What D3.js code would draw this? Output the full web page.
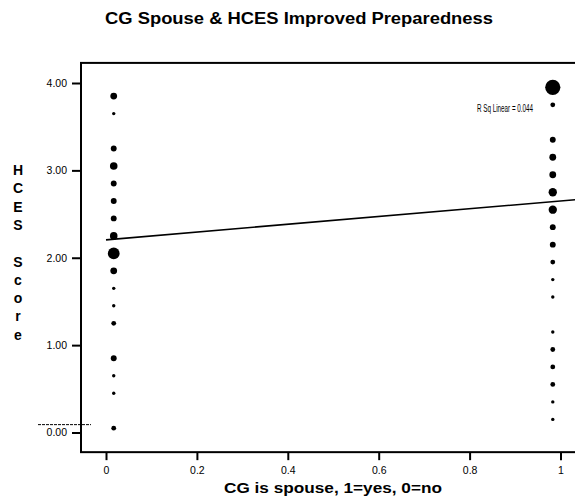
<!DOCTYPE html>
<html>
<head>
<meta charset="utf-8">
<script src="https://cdn.jsdelivr.net/npm/d3@7"></script>
<style>
  body { margin: 0; background: #fff; }
  svg { display: block; font-family: "Liberation Sans", Arial, sans-serif; }
</style>
</head>
<body>
<svg id="chart" width="575" height="498"></svg>
<script>
// CG is spouse: 0 = no, 1 = yes (columns are drawn slightly inside 0 and 1, as in the original)
var groupX = [0.017, 0.983];

// HCES score values and number of cases at each value
var scoresNo  = [3.85, 3.65, 3.25, 3.05, 2.85, 2.65, 2.45, 2.25, 2.05, 1.85, 1.65, 1.45, 1.25, 0.85, 0.65, 0.45, 0.05];
var countsNo  = [4,    1,    3,    5,    3,    3,    3,    5,    12,   4,    1,    1,    2,    3,    1,    1,    2];
var scoresYes = [3.95, 3.75, 3.35, 3.15, 2.95, 2.75, 2.55, 2.35, 2.15, 1.95, 1.75, 1.55, 1.15, 0.95, 0.75, 0.55, 0.35, 0.15];
var countsYes = [20,   2,    3,    4,    4,    6,    6,    3,    3,    2,    1,    1,    1,    2,    2,    2,    1,    1];

// linear fit
var fitIntercept = 2.205;
var fitSlope = 0.445;
var rSq = 0.044;

var xTicks = [0, 0.2, 0.4, 0.6, 0.8, 1];
var yTicks = [0, 1, 2, 3, 4];

var svg = d3.select("#chart");

var xScale = d3.scaleLinear().domain([0, 1]).range([106, 560.5]);
var yScale = d3.scaleLinear().domain([0, 4]).range([432.5, 83]);
var rScale = d3.scaleSqrt().domain([0, 20]).range([0, 7.6]);

// plot frame limits in data units
var xMin = -0.055, xMax = 1.04;
var yMin = -0.225, yMax = 4.23;

var points = [];
scoresNo.forEach(function(s, i){ points.push({x: groupX[0], y: s, n: countsNo[i]}); });
scoresYes.forEach(function(s, i){ points.push({x: groupX[1], y: s, n: countsYes[i]}); });

// title
svg.append("text")
    .attr("x", 299)
    .attr("y", 24)
    .attr("text-anchor", "middle")
    .attr("font-size", 16)
    .attr("font-weight", "bold")
    .attr("textLength", 388)
    .attr("lengthAdjust", "spacingAndGlyphs")
    .text("CG Spouse & HCES Improved Preparedness");

// frame
svg.append("rect")
    .attr("x", xScale(xMin))
    .attr("y", yScale(yMax))
    .attr("width", xScale(xMax) - xScale(xMin))
    .attr("height", yScale(yMin) - yScale(yMax))
    .attr("fill", "none")
    .attr("stroke", "black")
    .attr("stroke-width", 2);

var yAxis = d3.axisLeft(yScale)
    .tickValues(yTicks)
    .tickFormat(d3.format(".2f"))
    .tickSize(9)
    .tickPadding(5);

var gy = svg.append("g")
    .attr("transform", "translate(" + xScale(xMin) + ",0)")
    .call(yAxis);
gy.select(".domain").remove();
gy.selectAll("line").attr("stroke-width", 2);
gy.selectAll("text").attr("font-size", 10.5).attr("font-family", "Liberation Sans, Arial, sans-serif");

var xAxis = d3.axisBottom(xScale)
    .tickValues(xTicks)
    .tickFormat(d3.format(""))
    .tickSize(8)
    .tickPadding(6);

var gx = svg.append("g")
    .attr("transform", "translate(0," + yScale(yMin) + ")")
    .call(xAxis);
gx.select(".domain").remove();
gx.selectAll("line").attr("stroke-width", 2);
gx.selectAll("text").attr("font-size", 10.5).attr("font-family", "Liberation Sans, Arial, sans-serif");

// points
svg.append("g")
    .selectAll("circle")
    .data(points)
    .enter()
    .append("circle")
    .attr("cx", function(d){ return xScale(d.x); })
    .attr("cy", function(d){ return yScale(d.y); })
    .attr("r", function(d){ return rScale(d.n); })
    .attr("fill", "black");

// fit line
svg.append("line")
    .attr("x1", xScale(0))
    .attr("y1", yScale(fitIntercept))
    .attr("x2", xScale(xMax))
    .attr("y2", yScale(fitIntercept + fitSlope * xMax))
    .attr("stroke", "black")
    .attr("stroke-width", 1.6);

svg.append("text")
    .attr("x", 505)
    .attr("y", 111.5)
    .attr("text-anchor", "middle")
    .attr("font-size", 10)
    .attr("textLength", 56)
    .attr("lengthAdjust", "spacingAndGlyphs")
    .text("R Sq Linear = " + d3.format(".3f")(rSq));

// stray dashed mark left of the frame near 0.00
svg.append("line")
    .attr("x1", 38)
    .attr("x2", 91)
    .attr("y1", yScale(0.09))
    .attr("y2", yScale(0.09))
    .attr("stroke", "black")
    .attr("stroke-width", 1)
    .attr("stroke-dasharray", "3,1");

// axis titles
svg.append("text")
    .attr("x", 333)
    .attr("y", 493)
    .attr("text-anchor", "middle")
    .attr("font-size", 15)
    .attr("font-weight", "bold")
    .attr("textLength", 218)
    .attr("lengthAdjust", "spacingAndGlyphs")
    .text("CG is spouse, 1=yes, 0=no");

var yLabel = "HCES Score".split("");
svg.append("g")
    .selectAll("text")
    .data(yLabel)
    .enter()
    .append("text")
    .attr("x", 18)
    .attr("y", function(d, i){ return 175 + i * 18.3; })
    .attr("text-anchor", "middle")
    .attr("font-size", 14)
    .attr("font-weight", "bold")
    .text(function(d){ return d; });
</script>
</body>
</html>
